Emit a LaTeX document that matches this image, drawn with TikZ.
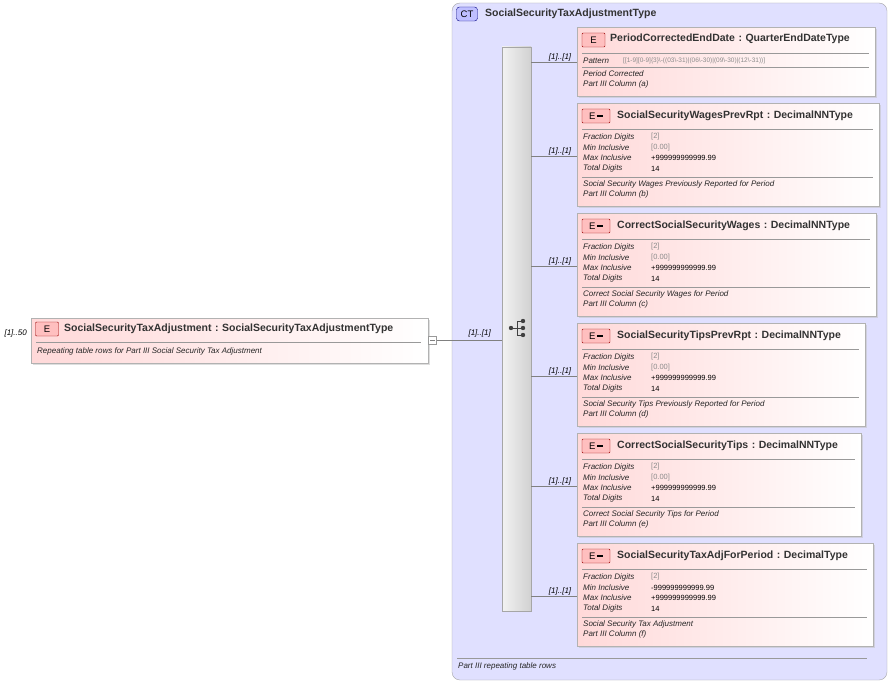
\documentclass[tikz,border=0pt]{standalone}
\usepackage{fontspec}
\setmainfont{Liberation Sans}
\usetikzlibrary{shadows}
\begin{document}
\begin{tikzpicture}[x=1pt,y=-1pt,
  elbox/.style={draw=black!30,left color=red!15,right color=white,shading angle=90,drop shadow={shadow xshift=1.5pt,shadow yshift=-1.5pt,fill=black!25}},
  badge/.style={draw=red!60!black,fill=red!25,rounded corners=1pt},
  ttl/.style={font=\fontsize{10.5}{11}\selectfont\bfseries,text=black!80,anchor=west,inner sep=0},
  lab/.style={font=\fontsize{8}{9}\selectfont\itshape,text=black!85,anchor=west,inner sep=0},
  val/.style={font=\fontsize{7.5}{8}\selectfont,anchor=west,inner sep=0},
  card/.style={font=\fontsize{8}{9}\selectfont\itshape,anchor=south east,inner sep=1pt},
  conn/.style={draw=black!50,line width=0.5pt}]
\useasboundingbox (0,0) rectangle (891,682);
\fill[white] (0,0) rectangle (891,682);
% outer CT
\draw[draw=black!35,fill=blue!12,rounded corners=8pt] (452,3) rectangle (887,680);
\node[draw=blue!50!black,fill=blue!25,rounded corners=3pt,inner sep=1pt,minimum width=21pt,minimum height=14pt,font=\fontsize{9.5}{10}\selectfont] (ct) at (467,14) {CT};
\node[ttl] (ctt) at (485,14) {SocialSecurityTaxAdjustmentType};
\draw[black!40] (457,658) -- (867,658);
\node[lab] (ctdoc) at (458,666) {Part III repeating table rows};
% sequence bar
\node[draw=black!35,left color=black!5,right color=black!18,shading angle=90,minimum width=29pt,minimum height=564pt,inner sep=0] (seq) at (516.5,329) {};
\draw[black!75,line width=0.8pt] (511,328) -- (517,328) (517,321) -- (517,335) (517,321) -- (523,321) (517,328) -- (523,328) (517,335) -- (523,335);
\fill[black!75] (511,328) circle (2.2) (523,321) circle (2.2) (523,328) circle (2.2) (523,335) circle (2.2);
% main element
\node[elbox,minimum width=397pt,minimum height=45pt,inner sep=0] (main) at (229.5,340.5) {};
\node[badge,minimum width=23pt,minimum height=14pt,inner sep=0,font=\fontsize{9.5}{10}\selectfont] at (47,329) {E};
\node[ttl] at (64,329) {SocialSecurityTaxAdjustment\,\,:\,\,SocialSecurityTaxAdjustmentType};
\draw[black!40] (36,342) -- (421,342);
\node[lab] at (37,351) {Repeating table rows for Part III Social Security Tax Adjustment};
\node[card,anchor=east] at (28,333) {[1]..50};
\node[draw=black!40,fill=white,minimum size=8pt,inner sep=0] (mm) at (432.5,340) {};
\draw[black!50] (430,340)--(435,340);
\draw[conn] (mm.east) -- (seq.west|-mm) node[card,pos=0.85,yshift=2pt] {[1]..[1]};
% child boxes
\newcommand\facetbox[8]{% name top right title minval doc1 doc2 connector y
  \node[elbox,minimum width={#3-577},minimum height=103pt,inner sep=0,anchor=north west] (#1) at (577,#2) {};
  \begin{scope}[shift={(0,#2)}]
  \node[badge,minimum width=28pt,minimum height=14pt,inner sep=0,font=\fontsize{9.5}{10}\selectfont] at (596,13) {E\,\rule[2.5pt]{6pt}{1.6pt}};
  \node[ttl] at (617,13) {#4};
  \draw[black!40] (582,26) -- ({#3-6},26);
  \node[lab] at (583,34) {Fraction Digits};
  \node[lab] at (583,44.5) {Min Inclusive};
  \node[lab] at (583,55) {Max Inclusive};
  \node[lab] at (583,65.5) {Total Digits};
  \node[val,text=black!45] at (651,34) {[2]};
  \node[val] at (651,44.5) {#5};
  \node[val,text=black] at (651,55) {+999999999999.99};
  \node[val,text=black] at (651,65.5) {14};
  \draw[black!40] (582,74) -- ({#3-6},74);
  \node[lab] at (583,81.5) {#6};
  \node[lab] at (583,91.5) {#7};
  \end{scope}
  \draw[conn] (seq.east|-{(0,#8)}) -- (577,#8) node[card,pos=0.9] {[1]..[1]};
}
% child 1
\node[elbox,minimum width=298pt,minimum height=69pt,inner sep=0,anchor=north west] (c1) at (577,27) {};
\node[badge,minimum width=23pt,minimum height=14pt,inner sep=0,font=\fontsize{9.5}{10}\selectfont] at (593.5,40) {E};
\node[ttl] at (610,39) {PeriodCorrectedEndDate\,\,:\,\,QuarterEndDateType};
\draw[black!40] (582,53) -- (869,53);
\node[lab] at (583,61) {Pattern};
\node[val,text=black!45,font=\fontsize{6.5}{7}\selectfont] at (623,61) {[[1-9][0-9]\{3\}\textbackslash-((03\textbackslash-31)|(06\textbackslash-30)|(09\textbackslash-30)|(12\textbackslash-31))]};
\draw[black!40] (582,67) -- (869,67);
\node[lab] at (583,74) {Period Corrected};
\node[lab] at (583,84) {Part III Column (a)};
\draw[conn] (seq.east|-{(0,62)}) -- (577,62) node[card,pos=0.9] {[1]..[1]};
\facetbox{c2}{103}{879}{SocialSecurityWagesPrevRpt\,\,:\,\,DecimalNNType}{\textcolor{black!45}{[0.00]}}{Social Security Wages Previously Reported for Period}{Part III Column (b)}{156}
\facetbox{c3}{213}{876}{CorrectSocialSecurityWages\,\,:\,\,DecimalNNType}{\textcolor{black!45}{[0.00]}}{Correct Social Security Wages for Period}{Part III Column (c)}{266}
\facetbox{c4}{323}{865}{SocialSecurityTipsPrevRpt\,\,:\,\,DecimalNNType}{\textcolor{black!45}{[0.00]}}{Social Security Tips Previously Reported for Period}{Part III Column (d)}{376}
\facetbox{c5}{433}{861}{CorrectSocialSecurityTips\,\,:\,\,DecimalNNType}{\textcolor{black!45}{[0.00]}}{Correct Social Security Tips for Period}{Part III Column (e)}{486}
\facetbox{c6}{543}{873}{SocialSecurityTaxAdjForPeriod\,\,:\,\,DecimalType}{-999999999999.99}{Social Security Tax Adjustment}{Part III Column (f)}{596}
\end{tikzpicture}
\end{document}
